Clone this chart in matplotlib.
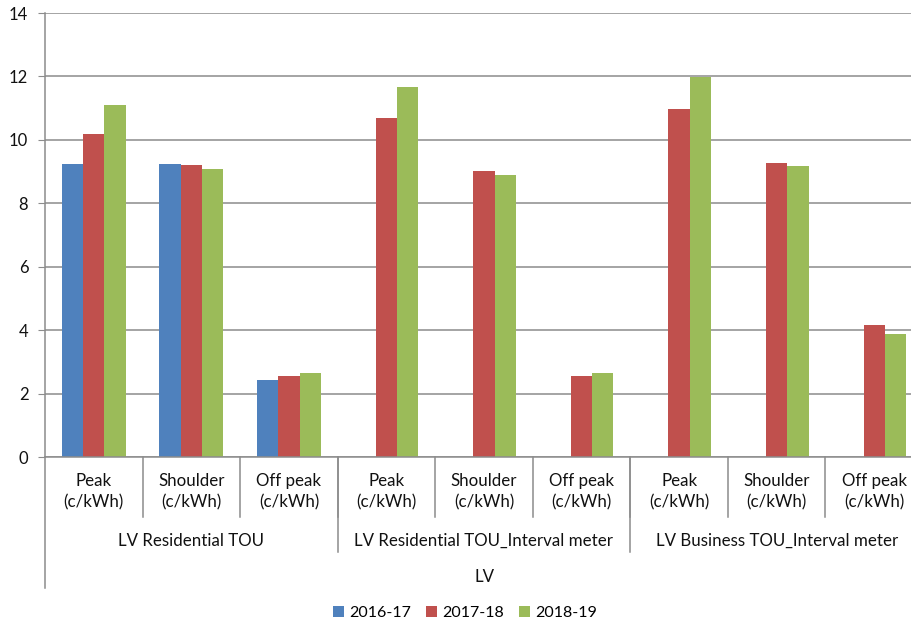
import matplotlib
matplotlib.use("Agg")
import matplotlib.pyplot as plt
from matplotlib.patches import Patch
import numpy as np

plt.rcParams["font.family"] = ["Lato", "DejaVu Sans"]

# data
sub_labels = ["Peak\n(c/kWh)", "Shoulder\n(c/kWh)", "Off peak\n(c/kWh)"] * 3
group_labels = ["LV Residential TOU", "LV Residential TOU_Interval meter",
                "LV Business TOU_Interval meter"]
top_label = "LV"
series_names = ["2016-17", "2017-18", "2018-19"]
colors = ["#4F81BD", "#C0504D", "#9BBB59"]

v_2016 = [9.25, 9.25, 2.44, np.nan, np.nan, np.nan, np.nan, np.nan, np.nan]
v_2017 = [10.17, 9.21, 2.54, 10.69, 9.02, 2.54, 10.98, 9.27, 4.16]
v_2018 = [11.11, 9.08, 2.64, 11.67, 8.90, 2.64, 11.98, 9.16, 3.89]
series = [v_2016, v_2017, v_2018]

W, H = 911, 623
fig = plt.figure(figsize=(W / 100, H / 100), dpi=100)
# plot area: left axis at x=45px, zero line at y=457px, top gridline at y=13px
# the right end runs past the image edge like in the reference
x0, y0, ytop, xr = 45, 457, 13, 923
ax = fig.add_axes([x0 / W, (H - y0) / H, (xr - x0) / W, (y0 - ytop) / H])
ph = y0 - ytop  # plot height in px

n = len(sub_labels)
x = np.arange(n) + 0.5
bw = 0.218
for k, (vals, c, name) in enumerate(zip(series, colors, series_names)):
    ax.bar(x + (k - 1) * bw, vals, width=bw, color=c, label=name,
           edgecolor="none", zorder=2)

ax.set_xlim(0, n)
ax.set_ylim(0, 14)
ax.set_yticks(np.arange(0, 15, 2))
ax.yaxis.grid(True, color="#8c8c8c", linewidth=1.1, zorder=0)
ax.set_axisbelow(True)
ax.set_xticks([])
ax.tick_params(axis="y", length=5, color="#8c8c8c", labelsize=12, pad=7,
               labelcolor="#111111")
for s in ["top", "right"]:
    ax.spines[s].set_visible(False)
for s in ["left", "bottom"]:
    ax.spines[s].set_color("#8c8c8c")
    ax.spines[s].set_linewidth(1.1)

tr = ax.get_xaxis_transform()


def px(d):
    # pixels below the zero line -> axes fraction
    return -d / ph


def vline(xv, depth):
    ax.plot([xv, xv], [0, px(depth)], transform=tr, color="#8c8c8c",
            linewidth=1.1, clip_on=False)


# multi-level category axis
vline(0, 131)
for i in range(1, n + 1):
    vline(i, 60)
for i in (3, 6, 9):
    vline(i, 95)

for i, lab in enumerate(sub_labels):
    ax.text(i + 0.5, px(35), lab, transform=tr, ha="center", va="center",
            fontsize=12.2, linespacing=1.4, color="#111111")
for g, lab in enumerate(group_labels):
    ax.text(3 * g + 1.5, px(84), lab, transform=tr, ha="center", va="center",
            fontsize=12.2, color="#111111")
ax.text(4.5, px(120), top_label, transform=tr, ha="center", va="center",
        fontsize=12.2, color="#111111")

handles = [Patch(facecolor=c, edgecolor="none") for c in colors]
fig.legend(handles, series_names, loc="center", bbox_to_anchor=(465 / W, 1 - 613 / H),
           ncol=3, frameon=False, fontsize=11.5, handlelength=0.7, handleheight=0.7,
           handletextpad=0.35, columnspacing=0.9)

fig.savefig("out.png", dpi=100)
